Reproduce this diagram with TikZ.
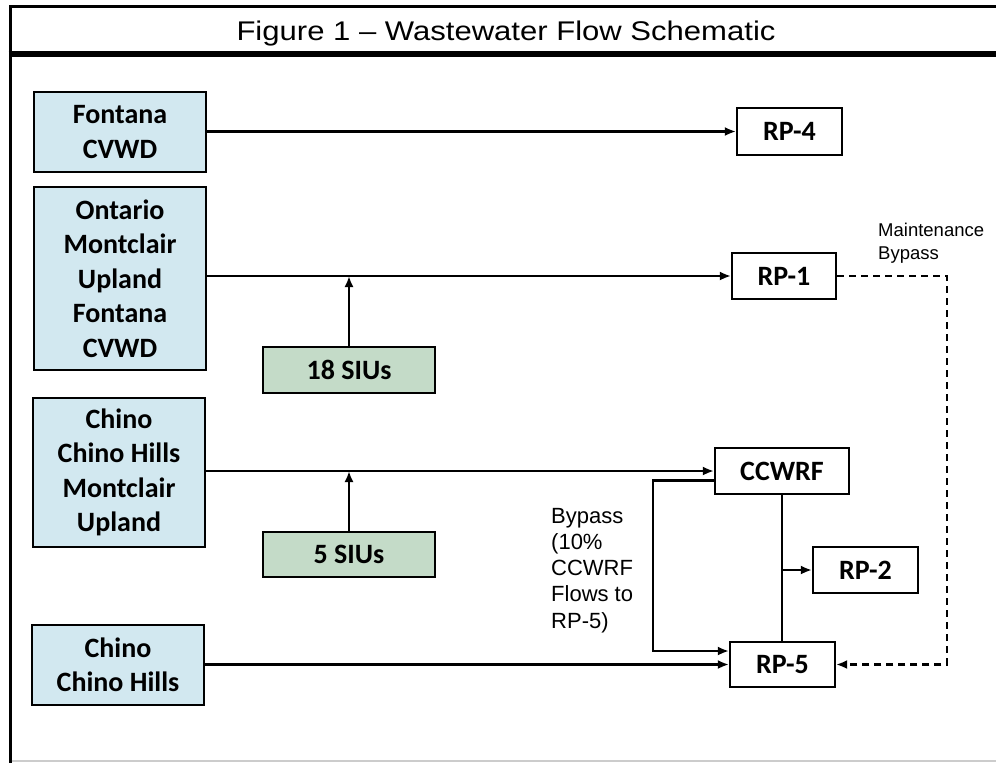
\documentclass[tikz,border=0pt]{standalone}
\usepackage{fontspec}
\setmainfont{Liberation Sans}
\newfontfamily\boxfont{Carlito}
\usetikzlibrary{arrows.meta}
\definecolor{srcblue}{RGB}{210,232,240}
\definecolor{siugreen}{RGB}{196,219,200}
\tikzset{
  base/.style={draw=black, line width=2.2pt, inner sep=0pt, align=center,
    font=\boxfont\bfseries\fontsize{28}{34.5}\selectfont},
  srcbox/.style={base, fill=srcblue, minimum width=172pt},
  siubox/.style={base, fill=siugreen, minimum width=172pt},
  plantbox/.style={base, fill=white},
  conn/.style={line width=2.2pt, -{Latex[length=11pt,width=9pt]}},
  plainconn/.style={line width=2.2pt},
  dashconn/.style={line width=2.2pt, dash pattern=on 7pt off 5pt, -{Latex[length=11pt,width=9pt]}},
  note/.style={inner sep=0pt, align=left, anchor=west}
}
\begin{document}
\begin{tikzpicture}[x=1pt,y=-1pt]
\useasboundingbox (0,0) rectangle (996,763);
\fill[white] (0,0) rectangle (996,763);
% frame
\draw[line width=3pt] (10,763) -- (10,6) -- (996,6);
\draw[line width=6.5pt] (8.5,54) -- (996,54);
\draw[black!20, line width=1.5pt] (11.5,761) -- (996,761);
\node[inner sep=0pt, anchor=base, xscale=1.15, transform shape, font=\fontsize{27}{32}\selectfont] (title) at (506,40) {Figure 1 -- Wastewater Flow Schematic};

% source boxes
\node[srcbox, minimum height=80pt] (fon) at (120,132) {Fontana\\CVWD};
\node[srcbox, minimum height=183pt] (ont) at (120,278.5) {Ontario\\Montclair\\Upland\\Fontana\\CVWD};
\node[srcbox, minimum height=149pt] (chm) at (119,472.5) {Chino\\Chino Hills\\Montclair\\Upland};
\node[srcbox, minimum height=80pt] (chh) at (118,665) {Chino\\Chino Hills};
\node[siubox, minimum height=46pt] (s18) at (349,370) {18 SIUs};
\node[siubox, minimum height=45pt] (s5) at (349,554.5) {5 SIUs};

% plants
\node[plantbox, minimum width=105pt, minimum height=47pt] (rp4) at (789.5,131.5) {RP-4};
\node[plantbox, minimum width=104pt, minimum height=46pt] (rp1) at (784,276) {RP-1};
\node[plantbox, minimum width=134pt, minimum height=46pt] (ccwrf) at (782,471) {CCWRF};
\node[plantbox, minimum width=105pt, minimum height=46pt] (rp2) at (865.5,570) {RP-2};
\node[plantbox, minimum width=105pt, minimum height=45pt] (rp5) at (782.5,664.5) {RP-5};

% notes
\node[note, font=\fontsize{18.5}{23}\selectfont] (mnote) at (878,243.5) {Maintenance\\Bypass};
\node[note, font=\fontsize{22}{26.2}\selectfont] (bnote) at (551,570.5) {Bypass\\(10\%\\CCWRF\\Flows to\\RP-5)};

% connectors
\draw[conn] (fon.east |- rp4.west) -- (rp4.west);
\draw[conn] (ont.east |- rp1.west) -- (rp1.west);
\draw[conn] (s18.north) -- (s18.north |- rp1.west);
\draw[conn] (chm.east |- ccwrf.west) -- (ccwrf.west);
\draw[conn] (s5.north) -- (s5.north |- ccwrf.west);
\draw[conn] (chh.east |- rp5.west) -- (rp5.west);

\coordinate (b1) at ([yshift=-9.5pt]ccwrf.west);
\coordinate (b2) at ([yshift=13.5pt]rp5.west);
\coordinate (bx) at (653,565);
\draw[conn] (b1) -- (b1 -| bx) -- (bx |- b2) -- (b2);

\draw[plainconn] (ccwrf.south) -- (ccwrf.south |- rp5.north);
\draw[conn] (ccwrf.south |- rp2.west) -- (rp2.west);

\coordinate (dx) at (947,400);
\draw[dashconn] (rp1.east) -- (rp1.east -| dx) -- (dx |- rp5.east) -- (rp5.east);
\end{tikzpicture}
\end{document}
